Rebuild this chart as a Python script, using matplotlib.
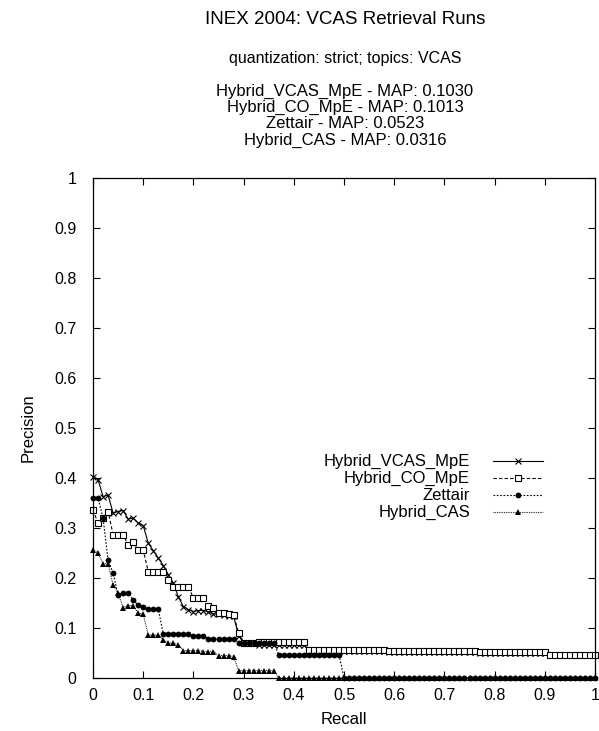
import matplotlib
matplotlib.use("Agg")
import matplotlib.pyplot as plt
import numpy as np

plt.rcParams['font.family'] = ['Liberation Sans', 'DejaVu Sans']

recall = [round(i * 0.01, 2) for i in range(101)]

vcas_mpe = ([0.403, 0.397, 0.363, 0.366, 0.330, 0.333, 0.335, 0.318, 0.320, 0.310,
             0.305, 0.270, 0.255, 0.240, 0.225, 0.207, 0.190, 0.162, 0.143, 0.137,
             0.133, 0.135, 0.135, 0.132, 0.128, 0.128, 0.127, 0.125, 0.124, 0.085,
             0.070, 0.070, 0.070]
            + [0.066] * 10 + [0.054] * 16 + [0.052] * 18 + [0.050] * 14 + [0.046] * 10)

co_mpe = ([0.336, 0.310, 0.320, 0.333, 0.287, 0.287, 0.287, 0.266, 0.273, 0.256,
           0.256, 0.213, 0.213, 0.213, 0.213, 0.196, 0.183, 0.183, 0.183, 0.183,
           0.160, 0.160, 0.160, 0.145, 0.140, 0.130, 0.130, 0.128, 0.127, 0.090,
           0.070, 0.070, 0.070]
          + [0.073] * 10 + [0.057] * 16 + [0.055] * 18 + [0.053] * 14 + [0.046] * 10)

zettair = ([0.360, 0.360, 0.320, 0.236, 0.210, 0.166, 0.170, 0.170, 0.156, 0.146,
            0.143, 0.138, 0.138, 0.138, 0.088, 0.088, 0.088, 0.088, 0.088, 0.088,
            0.084, 0.084, 0.084, 0.078, 0.078, 0.078, 0.078, 0.078, 0.078, 0.070]
           + [0.070] * 7 + [0.047] * 13 + [0.0] * 51)

hybrid_cas = ([0.256, 0.250, 0.229, 0.229, 0.186, 0.170, 0.141, 0.145, 0.145, 0.130,
               0.128, 0.086, 0.086, 0.086, 0.077, 0.070, 0.070, 0.066, 0.055, 0.055,
               0.055, 0.055, 0.053, 0.053, 0.053, 0.045, 0.045, 0.045, 0.043, 0.015]
              + [0.015] * 7 + [0.0] * 64)

series_names = ["Hybrid_VCAS_MpE", "Hybrid_CO_MpE", "Zettair", "Hybrid_CAS"]
map_values = ["0.1030", "0.1013", "0.0523", "0.0316"]
series_data = [vcas_mpe, co_mpe, zettair, hybrid_cas]
styles = [
    dict(linestyle='-', marker='x', markersize=4.5, markerfacecolor='none', markeredgewidth=0.8),
    dict(linestyle=(0, (3, 2)), marker='s', markersize=4.5, markerfacecolor='white', markeredgewidth=0.8),
    dict(linestyle=(0, (1.5, 1.5)), marker='o', markersize=4.2, markerfacecolor='black', markeredgewidth=0),
    dict(linestyle=(0, (0.7, 0.9)), marker='^', markersize=4.2, markerfacecolor='black', markeredgewidth=0),
]

fig = plt.figure(figsize=(5.99, 7.31), dpi=100)
ax = fig.add_axes([93 / 599, 53 / 731, 502 / 599, 500 / 731])

for data, st in zip(series_data, styles):
    ax.plot(recall, data, color='black', linewidth=0.8, markeredgecolor='black', clip_on=False, **st)

ax.set_xlim(0, 1)
ax.set_ylim(0, 1)
ticks = [round(i * 0.1, 1) for i in range(11)]
tick_labels = ['0'] + ['%.1f' % t for t in ticks[1:-1]] + ['1']
ax.set_xticks(ticks)
ax.set_xticklabels(tick_labels)
ax.set_yticks(ticks)
ax.set_yticklabels(tick_labels)
ax.tick_params(direction='in', length=5, width=0.8, top=True, right=True, labelsize=11.5)
ax.tick_params(axis='y', pad=12)
ax.tick_params(axis='x', pad=7)
for s in ax.spines.values():
    s.set_linewidth(0.9)

ax.set_xlabel("Recall", fontsize=12, labelpad=7)
ax.set_ylabel("Precision", fontsize=12, labelpad=13)

# legend (gnuplot style: text right-aligned, sample on right)
ly = [0.434, 0.400, 0.366, 0.332]
for name, st, y in zip(series_names, styles, ly):
    ax.text(0.751, y, name, transform=ax.transAxes, ha='right', va='center', fontsize=12)
    ax.plot([0.797, 0.896], [y, y], transform=ax.transAxes, color='black', linewidth=0.8,
            linestyle=st['linestyle'], clip_on=False)
    ax.plot([0.8465], [y], transform=ax.transAxes, color='black', linestyle='none',
            marker=st['marker'], markersize=st['markersize'], markerfacecolor=st['markerfacecolor'],
            markeredgewidth=st['markeredgewidth'], markeredgecolor='black', clip_on=False)

cx = 345 / 599
fig.text(cx, 1 - 20 / 731, "INEX 2004: VCAS Retrieval Runs", ha='center', va='center', fontsize=13.5)
fig.text(cx, 1 - 59 / 731, "quantization: strict; topics: VCAS", ha='center', va='center', fontsize=11.5)
for i, (n, m) in enumerate(zip(series_names, map_values)):
    fig.text(cx, 1 - (91 + 16.5 * i) / 731, "%s - MAP: %s" % (n, m), ha='center', va='center', fontsize=12)

fig.savefig("out.png", dpi=100)
